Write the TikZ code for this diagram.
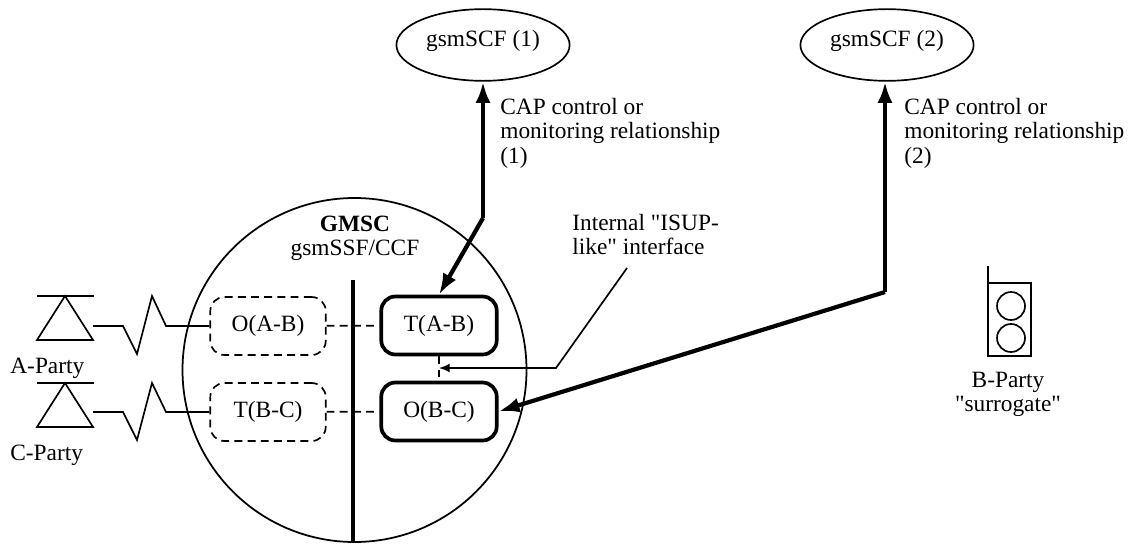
\documentclass[tikz,border=0pt]{standalone}
\usepackage{fontspec}
\setmainfont[Ligatures=TeXOff]{Liberation Serif}
\usetikzlibrary{arrows.meta,shapes.geometric}
\tikzset{
  txt/.style={inner sep=0pt,font=\fontsize{13.3}{13.8}\selectfont},
  peer/.style={draw,txt,rounded corners=8pt,minimum width=65.7pt,minimum height=33pt},
  dashseg/.style={dash pattern=on 4.5pt off 3pt},
  callseg/.style={peer,line width=0.95pt,dashseg},
  mainseg/.style={peer,line width=2.1pt},
  scf/.style={draw,ellipse,txt,line width=0.95pt,minimum width=98.6pt,minimum height=40.8pt},
  label/.style={txt,align=left,anchor=north west},
  rel/.style={line width=2.4pt,-{Latex[length=12pt,width=8.5pt]}},
  thin line/.style={line width=0.95pt}
}
\begin{document}
\begin{tikzpicture}[x=0.02cm,y=-0.02cm]
  \useasboundingbox (0,0) rectangle (1131,544);

  % Service control points
  \node [scf] (scfa) at (483,45) {\raisebox{7pt}{gsmSCF (1)}};
  \node [scf] (scfb) at (887,45) {\raisebox{7pt}{gsmSCF (2)}};

  % Switch
  \draw [line width=1pt] (354.5,370) circle (172);
  \node [txt,align=center] (gmsc) at (355,238) {\textbf{GMSC}\\gsmSSF/CCF};
  \coordinate (wallt) at (353,280);
  \coordinate (wallb) at (353,541);
  \draw [line width=2.2pt] (wallt) -- (wallb);

  % Call segments
  \node [callseg] (oab) at (268,326) {\raisebox{-1pt}{O(A-B)}};
  \node [callseg] (tbc) at (268,412) {\raisebox{-1pt}{T(B-C)}};
  \node [mainseg] (tab) at (439,325.5) {T(A-B)};
  \node [mainseg] (obc) at (439,411.5) {O(B-C)};
  \draw [thin line,dashseg] (oab) -- (tab);
  \draw [thin line,dashseg] (tbc) -- (obc);
  \draw [thin line,dashseg] (tab) -- (obc);

  % A-Party and C-Party
  \foreach \name/\ya/\party in {a/296/A-Party,c/383/C-Party} {
    \coordinate (\name top) at (65,\ya);
    \draw [thin line] (37,\ya) -- (94,\ya);
    \draw [thin line] (\name top) -- (37,\ya+44) -- (93,\ya+44) -- cycle;
    \node [txt,anchor=base west] (\name party) at (10,\ya+77) {\party};
  }
  \coordinate (lineab) at (93,326);
  \coordinate (linebc) at (93,412);
  \draw [thin line] (lineab) -- (123,326) -- (137,354) -- (152,296) -- (166,326) -- (oab.west);
  \draw [thin line] (linebc) -- (123,412) -- (137,440) -- (152,383) -- (166,412) -- (tbc.west);

  % Relationships
  \coordinate (benda) at (483,218);
  \coordinate (bendb) at (885,292);
  \draw [rel] (benda) -- (tab.north);
  \draw [rel] (benda) -- (scfa.south);
  \draw [rel] (bendb) -- (obc.east);
  \draw [rel] (bendb) -- (scfb.south -| bendb);
  \node [label] (rela) at (500,98) {CAP control or\\monitoring relationship\\(1)};
  \node [label] (relb) at (904,98) {CAP control or\\monitoring relationship\\(2)};

  % Internal interface
  \node [label] (isup) at (572,214) {Internal "ISUP-\\like" interface};
  \coordinate (isupa) at (627,268);
  \coordinate (isupb) at (556,368);
  \coordinate (isupc) at (439,368);
  \draw [thin line,-{Latex[length=6pt,width=5pt]}] (isupa) -- (isupb) -- (isupc);

  % B-Party
  \coordinate (ant) at (988,266);
  \draw [thin line] (ant) -- (988,283);
  \draw [thin line] (988,283) rectangle (1031,356);
  \draw [thin line] (1011,306) circle (14);
  \draw [thin line] (1011,338) circle (14);
  \node [txt,align=center] (bparty) at (1008,394) {B-Party\\"surrogate"};
\end{tikzpicture}
\end{document}
